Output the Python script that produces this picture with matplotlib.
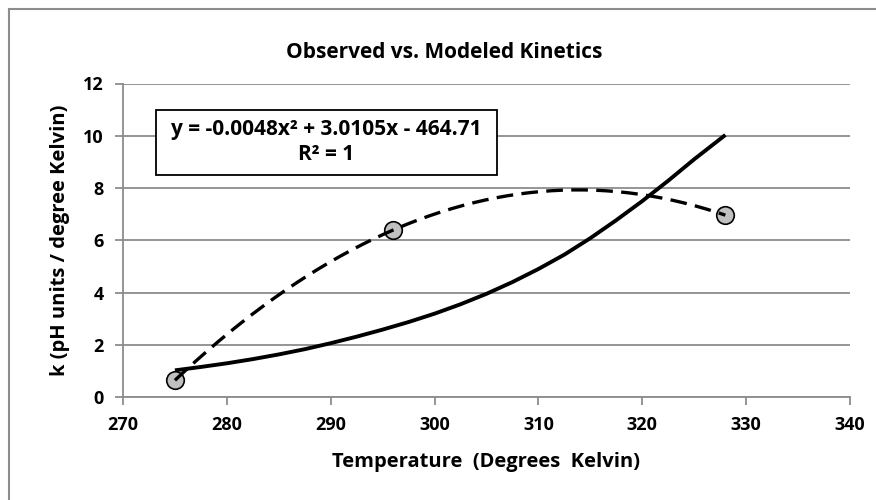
import numpy as np
import matplotlib.pyplot as plt
from matplotlib.patches import Rectangle
from matplotlib.lines import Line2D

plt.rcParams['font.family'] = ['Open Sans', 'DejaVu Sans']
plt.rcParams['font.weight'] = 'bold'
plt.rcParams['axes.labelweight'] = 'bold'

# observed rate constants
temp_obs = [275, 296, 328]
k_obs = [0.64, 6.39, 6.96]

# modeled curve
temp_model = [275, 277.5, 280, 282.5, 285, 287.5, 290, 292.5, 295, 297.5, 300,
              302.5, 305, 307.5, 310, 312.5, 315, 317.5, 320, 322.5, 325, 328]
k_model = [1.02, 1.15, 1.29, 1.45, 1.63, 1.83, 2.06, 2.31, 2.58, 2.87, 3.19,
           3.55, 3.95, 4.40, 4.90, 5.45, 6.08, 6.77, 7.50, 8.28, 9.10, 10.03]

eq_text = "y = -0.0048x² + 3.0105x - 464.71\nR² = 1"

fig = plt.figure(figsize=(8.76, 5.0), dpi=100)
ax = fig.add_axes([123/876, 1-397/500, 727/876, 313.5/500])

grid_c = '#8c8c8c'
ax.set_xlim(270, 340)
ax.set_ylim(0, 12)
ax.set_xticks(range(270, 341, 10))
ax.set_yticks(range(0, 13, 2))
ax.grid(axis='y', color=grid_c, linewidth=1.3)
ax.set_axisbelow(True)
for s in ['top', 'right']:
    ax.spines[s].set_visible(False)
for s in ['left', 'bottom']:
    ax.spines[s].set_color(grid_c)
    ax.spines[s].set_linewidth(1.3)
ax.tick_params(direction='out', length=6, width=1.3, color=grid_c,
               labelsize=13, pad=8)

# trendline (2nd order poly through observed points)
coef = np.polyfit(temp_obs, k_obs, 2)
xx = np.linspace(min(temp_obs), max(temp_obs), 200)
ax.scatter(temp_obs, k_obs, s=160, facecolor='#c0c0c0', edgecolor='black',
           linewidth=1.2, zorder=2, clip_on=False)
ax.plot(xx, np.polyval(coef, xx), color='black', linewidth=2.4,
        dashes=(5, 2.5), zorder=3)
ax.plot(temp_model, k_model, color='black', linewidth=2.8, zorder=3,
        solid_capstyle='butt', solid_joinstyle='round')

ax.set_xlabel("Temperature  (Degrees  Kelvin)", fontsize=14.5, labelpad=13)
ax.set_ylabel("k (pH units / degree Kelvin)", fontsize=14.5, labelpad=9)

fig.text(444/876, 1-53/500, "Observed vs. Modeled Kinetics", fontsize=15,
         ha='center', va='center')

# equation box
fig.patches.append(Rectangle((156/876, 1-175/500), 341/876, 65/500,
                             transform=fig.transFigure, facecolor='white',
                             edgecolor='black', linewidth=1.3, zorder=5))
fig.text(326/876, 1-142/500, eq_text, fontsize=15, ha='center', va='center',
         multialignment='center', linespacing=1.2, zorder=6)

# chart area border (top and left only visible)
fig.add_artist(Line2D([9/876, 1], [1-9/500, 1-9/500], color=grid_c, linewidth=1.5))
fig.add_artist(Line2D([9/876, 9/876], [0, 1-9/500], color=grid_c, linewidth=1.5))

fig.savefig('out.png', dpi=100)
